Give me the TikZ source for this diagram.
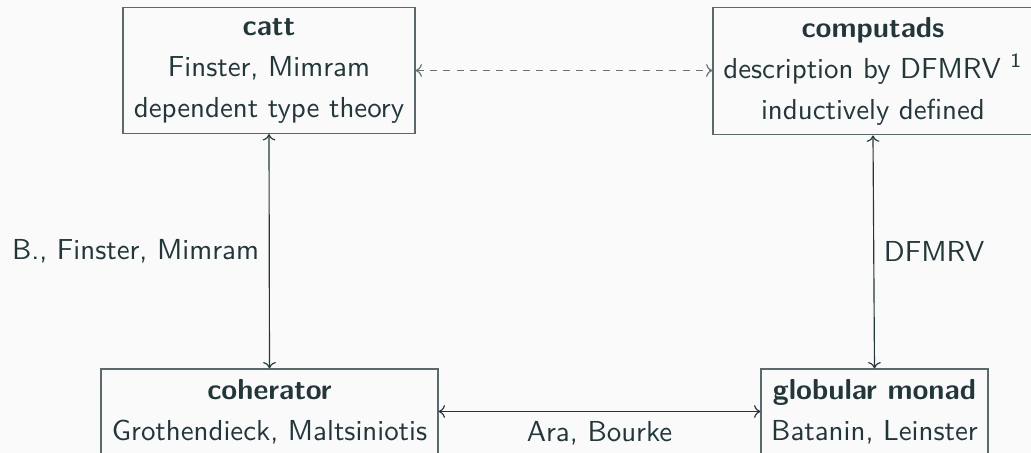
\documentclass[tikz,border=0pt]{standalone}
\usepackage{fontspec}
\usetikzlibrary{arrows.meta}
\definecolor{tealdark}{HTML}{23373B}
\definecolor{slidebg}{HTML}{FAFAFA}
\begin{document}
\begin{tikzpicture}[
  x=0.346pt, y=-0.346pt,
  every node/.style={text=tealdark, font=\sffamily\fontsize{10}{14.2}\selectfont},
  topic/.style={draw=tealdark!75, line width=0.4pt, align=center,
    inner xsep=2pt, inner ysep=2pt},
  link/.style={draw=tealdark, line width=0.4pt, {To[length=2.2pt,width=4.4pt]}-{To[length=2.2pt,width=4.4pt]}},
  linkdash/.style={link, draw=tealdark!70, dash pattern=on 2.4pt off 2.2pt}
]
  % page frame
  \fill[slidebg] (0,0) rectangle (1031,453);
  \useasboundingbox (0,0) rectangle (1031,453);
  \clip (0,0) rectangle (1031,453);

  % the four descriptions
  \node[topic, minimum width=101pt, minimum height=43.6pt] (catt) at (269,70.5)
    {\textbf{catt}\\Finster, Mimram\\dependent type theory};
  \node[topic, minimum width=110.7pt, minimum height=44.2pt] (comp) at (873,71)
    {\textbf{computads}\\description by DFMRV \textsuperscript{1}\\inductively defined};
  \node[topic, minimum width=116.6pt, minimum height=29.4pt] (coh) at (269.5,411.5)
    {\textbf{coherator}\\Grothendieck, Maltsiniotis};
  \node[topic, minimum width=78.5pt, minimum height=29.4pt] (glob) at (874.5,411.5)
    {\textbf{globular monad}\\Batanin, Leinster};

  % equivalences between them
  \draw[linkdash] (catt.east) -- (catt.east -| comp.west);
  \draw[link] (catt.south) -- node[midway, left] {B., Finster, Mimram} (coh.north);
  \draw[link] (comp.south) -- node[midway, right] {DFMRV} (glob.north);
  \draw[link] (coh.east) -- node[midway, below] {Ara, Bourke} (glob.west);
\end{tikzpicture}
\end{document}
